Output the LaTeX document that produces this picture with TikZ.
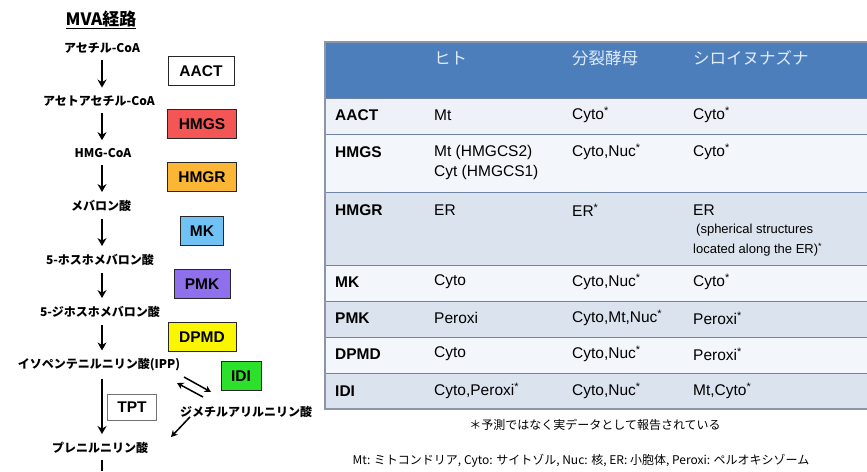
\documentclass[tikz,border=0pt]{standalone}
\usepackage{fontspec}
\setmainfont{Liberation Sans}
\newfontfamily\jp{Noto Sans CJK JP}
\usetikzlibrary{arrows.meta}
\definecolor{hmgsred}{RGB}{244,86,86}
\definecolor{hmgrorange}{RGB}{250,182,52}
\definecolor{mkblue}{RGB}{112,194,244}
\definecolor{pmkpurple}{RGB}{142,112,236}
\definecolor{dpmdyellow}{RGB}{250,246,0}
\definecolor{idigreen}{RGB}{44,224,44}
\definecolor{hdrblue}{RGB}{76,126,188}
\definecolor{hdrtext}{RGB}{222,236,252}
\definecolor{rowlight}{RGB}{243,246,250}
\definecolor{rowdark}{RGB}{219,227,238}
\definecolor{rowline}{RGB}{112,132,166}
\definecolor{tblframe}{RGB}{140,150,166}
\newcommand{\rep}{\textsuperscript{*}}
\tikzset{
  metab/.style={font=\jp\bfseries\fontsize{12}{14}\selectfont,inner sep=1pt},
  pathtitle/.style={font=\jp\bfseries\fontsize{17}{19}\selectfont,inner sep=1pt},
  enzbox/.style={draw=black!85,line width=1pt,minimum height=29pt,inner sep=2pt,font=\bfseries\fontsize{15.5}{17}\selectfont},
  flow/.style={-{Stealth[length=8pt,width=9pt]},line width=1.8pt,shorten <=6pt,shorten >=7pt},
  eqflow/.style={-{Stealth[length=6.5pt,width=7pt]},line width=1.5pt},
  colhead/.style={anchor=west,inner sep=0pt,text=hdrtext,font=\jp\fontsize{16.5}{18}\selectfont},
  rowhead/.style={anchor=west,inner sep=0pt,font=\bfseries\fontsize{15.5}{18}\selectfont},
  cell/.style={anchor=west,inner sep=0pt,font=\fontsize{15.5}{18}\selectfont},
  smallcell/.style={anchor=west,inner sep=0pt,font=\fontsize{13}{15}\selectfont},
  note/.style={inner sep=0pt,font=\jp\fontsize{12}{14}\selectfont}
}
\begin{document}
\begin{tikzpicture}[x=1pt,y=-1pt]
\useasboundingbox[fill=white] (0,0) rectangle (867,471);
% pathway
\coordinate (axis) at (102,0);
\node[pathtitle] (ttl) at (101,20) {\underline{MVA経路}};
\node[metab] (acoa) at (102,48) {アセチル-CoA};
\node[metab] (aacoa) at (99,101) {アセトアセチル-CoA};
\node[metab] (hmgcoa) at (103,153) {HMG-CoA};
\node[metab] (mva) at (101,206) {メバロン酸};
\node[metab] (pmva) at (100,260) {5-ホスホメバロン酸};
\node[metab] (ppmva) at (100,312) {5-ジホスホメバロン酸};
\node[metab] (ipp) at (99,365) {イソペンテニルニリン酸(IPP)};
\node[metab] (dmapp) at (246,412) {ジメチルアリルニリン酸};
\node[metab] (pren) at (100,448) {プレニルニリン酸};
\draw[flow] (acoa.south -| axis) -- (aacoa.north -| axis);
\draw[flow] (aacoa.south -| axis) -- (hmgcoa.north -| axis);
\draw[flow] (hmgcoa.south -| axis) -- (mva.north -| axis);
\draw[flow] (mva.south -| axis) -- (pmva.north -| axis);
\draw[flow] (pmva.south -| axis) -- (ppmva.north -| axis);
\draw[flow] (ppmva.south -| axis) -- (ipp.north -| axis);
\draw[flow] (ipp.south -| axis) -- (pren.north -| axis);
\draw[line width=1.8pt,shorten <=5pt] (pren.south -| axis) -- (102,471);
% isomerisation
\coordinate (eqa) at (184,377);
\coordinate (eqb) at (211,392);
\coordinate (eqc) at (203,397);
\coordinate (eqd) at (177,383);
\draw[eqflow] (eqa) -- (eqb);
\draw[eqflow] (eqc) -- (eqd);
\coordinate (dmtip) at (171,437);
\draw[eqflow] ([xshift=-56pt,yshift=2pt]dmapp.south) -- (dmtip);
% enzymes
\node[enzbox,fill=white,minimum width=66pt] (aact) at (201,71) {AACT};
\node[enzbox,fill=hmgsred,minimum width=69pt] (hmgs) at (202,124) {HMGS};
\node[enzbox,fill=hmgrorange,minimum width=69pt] (hmgr) at (202,177) {HMGR};
\node[enzbox,fill=mkblue,minimum width=43pt] (mk) at (202,231) {MK};
\node[enzbox,fill=pmkpurple,minimum width=56pt] (pmk) at (202,284) {PMK};
\node[enzbox,fill=dpmdyellow,minimum width=68pt] (dpmd) at (202,337) {DPMD};
\node[enzbox,fill=idigreen,minimum width=40pt] (idi) at (241,376) {IDI};
\node[enzbox,draw=black!55,fill=white,minimum width=49pt,minimum height=26pt] (tpt) at (132,407) {TPT};
% table
\fill[hdrblue] (325,42) rectangle (867,98);
\fill[rowlight!80!rowdark] (325,98) rectangle (867,134);
\fill[rowlight] (325,134) rectangle (867,192);
\fill[rowdark] (325,192) rectangle (867,265);
\fill[rowlight] (325,265) rectangle (867,301);
\fill[rowdark] (325,301) rectangle (867,337);
\fill[rowlight] (325,337) rectangle (867,373);
\fill[rowdark] (325,373) rectangle (867,409);
\foreach \yy in {98,134,192,265,301,337,373}
  \draw[rowline,line width=1pt] (325,\yy) -- (867,\yy);
\draw[tblframe,line width=1.2pt] (867,42) -- (325,42) -- (325,409) -- (867,409);
\node[colhead] (hHu) at (434,58) {ヒト};
\node[colhead] (hSp) at (572,58) {分裂酵母};
\node[colhead] (hAt) at (693,58) {シロイヌナズナ};
\node[rowhead] (rAACT) at (335,115) {AACT};
\node[cell] (cAACTa) at (434,115) {Mt};
\node[cell] (cAACTb) at (572,115) {Cyto\rep};
\node[cell] (cAACTc) at (693,115) {Cyto\rep};
\node[rowhead] (rHMGS) at (335,152) {HMGS};
\node[cell] (cHMGSa) at (434,152) {Mt (HMGCS2)};
\node[cell] (cHMGSa2) at (434,172) {Cyt (HMGCS1)};
\node[cell] (cHMGSb) at (572,152) {Cyto,Nuc\rep};
\node[cell] (cHMGSc) at (693,152) {Cyto\rep};
\node[rowhead] (rHMGR) at (335,210) {HMGR};
\node[cell] (cHMGRa) at (434,210) {ER};
\node[cell] (cHMGRb) at (572,210) {ER\rep};
\node[cell] (cHMGRc) at (693,210) {ER};
\node[smallcell] (cHMGRc2) at (696,230) {(spherical structures};
\node[smallcell] (cHMGRc3) at (693,250) {located along the ER)\rep};
\node[rowhead] (rMK) at (335,282) {MK};
\node[cell] (cMKa) at (434,282) {Cyto};
\node[cell] (cMKb) at (572,282) {Cyto,Nuc\rep};
\node[cell] (cMKc) at (693,282) {Cyto\rep};
\node[rowhead] (rPMK) at (335,318) {PMK};
\node[cell] (cPMKa) at (434,318) {Peroxi};
\node[cell] (cPMKb) at (572,318) {Cyto,Mt,Nuc\rep};
\node[cell] (cPMKc) at (693,318) {Peroxi\rep};
\node[rowhead] (rDPMD) at (335,354) {DPMD};
\node[cell] (cDPMDa) at (434,354) {Cyto};
\node[cell] (cDPMDb) at (572,354) {Cyto,Nuc\rep};
\node[cell] (cDPMDc) at (693,354) {Peroxi\rep};
\node[rowhead] (rIDI) at (335,391) {IDI};
\node[cell] (cIDIa) at (434,391) {Cyto,Peroxi\rep};
\node[cell] (cIDIb) at (572,391) {Cyto,Nuc\rep};
\node[cell] (cIDIc) at (693,391) {Mt,Cyto\rep};
% notes
\node[note] (fnA) at (595,425) {＊予測ではなく実データとして報告されている};
\node[note] (fnB) at (581,461) {Mt: ミトコンドリア, Cyto: サイトゾル, Nuc: 核, ER: 小胞体, Peroxi: ペルオキシゾーム};
\end{tikzpicture}
\end{document}
